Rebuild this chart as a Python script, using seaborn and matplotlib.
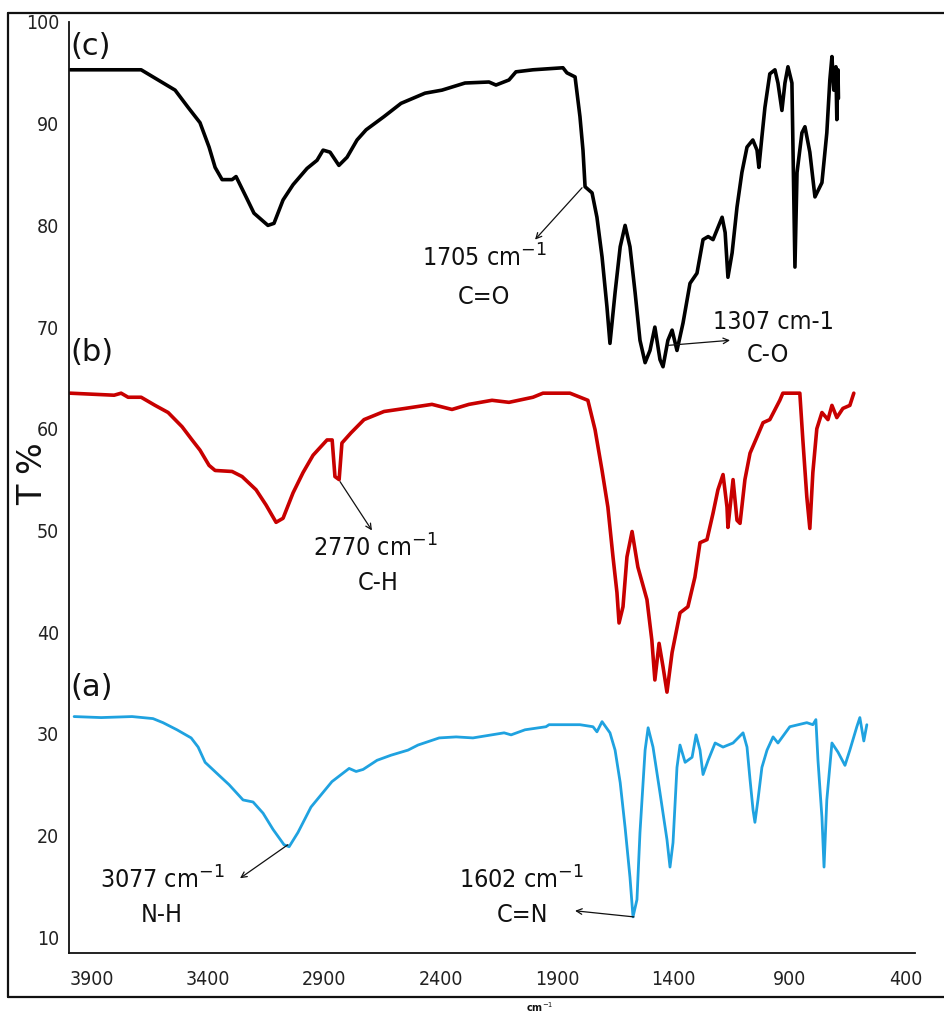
import numpy as np
import pandas as pd
import matplotlib
matplotlib.use("Agg")
import matplotlib.pyplot as plt
from matplotlib.lines import Line2D
import seaborn as sns

# ---------------- data (wavenumber cm-1, transmittance %) ----------------
wn_c = [3992, 3687, 3614, 3541, 3485, 3434, 3395, 3369, 3339, 3296, 3279, 3236, 3202, 3142, 3116,
        3077, 3034, 2974, 2931, 2905, 2875, 2837, 2802, 2759, 2720, 2643, 2570, 2467, 2394, 2295,
        2192, 2162, 2106, 2076, 2003, 1874, 1857, 1822, 1801, 1788, 1779, 1749, 1728, 1706, 1685,
        1672, 1650, 1628, 1607, 1586, 1564, 1543, 1521, 1500, 1479, 1457, 1444, 1423, 1405, 1384,
        1358, 1328, 1298, 1272, 1250, 1229, 1190, 1177, 1165, 1147, 1126, 1105, 1083, 1058, 1040,
        1032, 1019, 1006, 985, 963, 950, 933, 920, 907, 890, 886, 877, 868, 847, 834, 813, 791,
        761, 740, 727, 718, 710, 701, 697, 692, 690]
t_c = [95.3, 95.3, 94.3, 93.3, 91.6, 90.1, 87.7, 85.7, 84.5, 84.5, 84.8, 82.8, 81.2, 80.0, 80.2,
       82.5, 84.0, 85.6, 86.4, 87.4, 87.2, 85.9, 86.7, 88.4, 89.4, 90.7, 92.0, 93.0, 93.3, 94.0,
       94.1, 93.8, 94.3, 95.1, 95.3, 95.5, 95.0, 94.6, 90.7, 87.4, 83.8, 83.2, 80.8, 76.9, 72.0,
       68.4, 73.4, 77.9, 80.0, 77.9, 73.4, 68.7, 66.5, 67.7, 70.0, 66.8, 66.1, 68.7, 69.7, 67.7,
       70.4, 74.3, 75.3, 78.6, 78.9, 78.6, 80.8, 79.3, 74.9, 77.3, 81.8, 85.2, 87.7, 88.4, 87.4,
       85.7, 88.7, 91.6, 94.9, 95.3, 94.0, 91.3, 94.0, 95.6, 94.0, 88.4, 75.9, 85.2, 89.1, 89.7, 87.2, 82.8,
       84.2, 89.1, 94.3, 96.6, 93.3, 95.6, 90.4, 95.3, 92.5]

wn_b = [3992, 3803, 3773, 3743, 3687, 3627, 3571, 3511, 3468, 3434, 3395, 3369, 3296, 3253, 3193,
        3150, 3107, 3077, 3034, 2991, 2948, 2888, 2866, 2854, 2836, 2824, 2785, 2729, 2643, 2553,
        2437, 2351, 2278, 2179, 2106, 2003, 1960, 1844, 1767, 1736, 1706, 1681, 1659, 1642, 1633,
        1616, 1599, 1577, 1552, 1513, 1492, 1479, 1461, 1444, 1427, 1405, 1371, 1337, 1307, 1285,
        1255, 1229, 1208, 1186, 1169, 1165, 1143, 1126, 1113, 1092, 1070, 1040, 1014, 985, 942,
        929, 856, 843, 826, 813, 800, 783, 761, 735, 718, 697, 671, 641, 624]
t_b = [63.5, 63.3, 63.5, 63.1, 63.1, 62.3, 61.6, 60.2, 58.9, 57.9, 56.4, 55.9, 55.8, 55.3, 54.0,
       52.5, 50.8, 51.2, 53.7, 55.7, 57.4, 58.9, 58.9, 55.3, 55.0, 58.6, 59.6, 60.9, 61.7, 62.0,
       62.4, 61.9, 62.4, 62.8, 62.6, 63.1, 63.5, 63.5, 62.8, 59.9, 55.9, 52.3, 47.4, 43.9, 40.9,
       42.5, 47.4, 49.9, 46.4, 43.2, 39.2, 35.3, 38.9, 36.6, 34.1, 38.0, 41.9, 42.5, 45.4, 48.8,
       49.1, 51.7, 54.0, 55.5, 52.3, 50.3, 55.0, 51.0, 50.7, 55.0, 57.6, 59.2, 60.6, 60.9, 62.8,
       63.5, 63.5, 58.9, 53.3, 50.2, 55.7, 60.0, 61.6, 60.9, 62.3, 61.1, 62.0, 62.3, 63.5]

wn_a = [3975, 3859, 3726, 3636, 3593, 3533, 3472, 3442, 3412, 3356, 3309, 3249, 3206, 3163, 3120,
        3073, 3051, 3013, 2957, 2867, 2793, 2763, 2733, 2673, 2613, 2540, 2497, 2406, 2333, 2261,
        2127, 2097, 2037, 1947, 1934, 1801, 1745, 1728, 1706, 1672, 1650, 1628, 1607, 1586, 1573,
        1556, 1543, 1521, 1508, 1487, 1457, 1427, 1414, 1401, 1384, 1371, 1349, 1319, 1302, 1285,
        1272, 1250, 1220, 1186, 1143, 1100, 1083, 1070, 1057, 1049, 1036, 1019, 997, 971, 950,
        899, 826, 800, 787, 778, 761, 752, 740, 718, 692, 662, 641, 611, 598, 581, 568]
t_a = [31.7, 31.6, 31.7, 31.5, 31.1, 30.4, 29.6, 28.7, 27.2, 26.0, 25.0, 23.5, 23.3, 22.2, 20.6,
       19.1, 18.9, 20.3, 22.8, 25.3, 26.6, 26.3, 26.5, 27.4, 27.9, 28.4, 28.9, 29.6, 29.7, 29.6,
       30.1, 29.9, 30.4, 30.7, 30.9, 30.9, 30.7, 30.2, 31.2, 30.1, 28.4, 25.2, 20.8, 15.9, 12.0,
       13.7, 20.3, 28.4, 30.6, 28.7, 24.2, 19.6, 16.9, 19.3, 26.7, 28.9, 27.2, 27.7, 29.9, 28.4,
       26.0, 27.4, 29.1, 28.7, 29.1, 30.1, 28.7, 25.5, 22.5, 21.3, 23.5, 26.7, 28.4, 29.7, 29.1,
       30.7, 31.1, 30.9, 31.4, 27.4, 21.8, 16.9, 23.5, 29.1, 28.2, 26.9, 28.4, 30.7, 31.6, 29.3, 30.9]

x_ticks = [3900, 3400, 2900, 2400, 1900, 1400, 900, 400]
y_ticks = [10, 20, 30, 40, 50, 60, 70, 80, 90, 100]

# ---------------- figure ----------------
sns.set_theme(style="white")
plt.rcParams['font.family'] = ['DejaVu Sans']

W, H = 944, 1014
fig = plt.figure(figsize=(W / 100, H / 100), dpi=100)
ax = fig.add_axes([69 / W, 1 - 953 / H, (915 - 69) / W, (953 - 22) / H])

df_a = pd.DataFrame({"wn": wn_a, "T": t_a})
df_b = pd.DataFrame({"wn": wn_b, "T": t_b})
df_c = pd.DataFrame({"wn": wn_c, "T": t_c})

sns.lineplot(data=df_c, x="wn", y="T", ax=ax, color="#000000", lw=2.6, estimator=None, sort=False)
sns.lineplot(data=df_b, x="wn", y="T", ax=ax, color="#c80000", lw=2.6, estimator=None, sort=False)
sns.lineplot(data=df_a, x="wn", y="T", ax=ax, color="#1fa2e0", lw=2.0, estimator=None, sort=False)

ax.set_xlim(3997, 361)
ax.set_ylim(8.45, 100)
ax.set_xticks(x_ticks)
ax.set_yticks(y_ticks)
ax.set_xlabel("")
ax.set_ylabel("")
for s in ["top", "right"]:
    ax.spines[s].set_visible(False)
for s in ["left", "bottom"]:
    ax.spines[s].set_color("#111111")
    ax.spines[s].set_linewidth(1.3)
ax.tick_params(axis="both", length=0, colors="#222222")
ax.tick_params(axis="y", labelsize=14, pad=7)
ax.tick_params(axis="x", labelsize=14, pad=12)
for lab in ax.get_xticklabels() + ax.get_yticklabels():
    lab.set_fontstretch("condensed")

# panel labels
for lbl, yv in [("(c)", 97.6), ("(b)", 67.5), ("(a)", 34.6)]:
    ax.text(3992, yv, lbl, fontsize=22, color="#111111", ha="left", va="center", fontweight="medium")

# annotations
tk = dict(fontsize=18, color="#111111", ha="center", va="center", fontstretch="condensed")
arrow = dict(arrowstyle="->", color="#111111", lw=0.9, shrinkA=0, shrinkB=0, mutation_scale=10)

ax.annotate("", xy=(1994, 78.6), xytext=(1792, 83.7), arrowprops=arrow)
ax.text(2209, 76.8, "1705 cm$^{-1}$", **tk)
ax.text(2215, 73.0, "C=O", **tk)

ax.annotate("", xy=(1156, 68.7), xytext=(1423, 68.2), arrowprops=arrow)
ax.text(968, 70.5, "1307 cm-1", **tk)
ax.text(993, 67.3, "C-O", **tk)

ax.annotate("", xy=(2695, 50.0), xytext=(2832, 54.8), arrowprops=arrow)
ax.text(2682, 48.3, "2770 cm$^{-1}$", **tk)
ax.text(2669, 44.8, "C-H", **tk)

ax.annotate("", xy=(3262, 15.8), xytext=(3056, 19.1), arrowprops=arrow)
ax.text(3597, 15.6, "3077 cm$^{-1}$", **tk)
ax.text(3597, 12.2, "N-H", **tk)

ax.annotate("", xy=(1822, 12.6), xytext=(1569, 12.0), arrowprops=arrow)
ax.text(2050, 15.6, "1602 cm$^{-1}$", **tk)
ax.text(2050, 12.2, "C=N", **tk)

# y label and small x unit
fig.text(33 / W, 1 - 474 / H, "T %", rotation=90, fontsize=24, ha="center", va="center", color="#111111")
fig.text(540 / W, 1 - 1007 / H, "cm$^{-1}$", fontsize=7, ha="center", va="center",
         color="#111111", fontweight="bold")

# outer frame
for xs, ys in [([8 / W, 8 / W], [1 - 13 / H, 1 - 997 / H]),
               ([8 / W, 1.0], [1 - 13 / H, 1 - 13 / H]),
               ([8 / W, 1.0], [1 - 997 / H, 1 - 997 / H])]:
    fig.add_artist(Line2D(xs, ys, transform=fig.transFigure, color="#111111", lw=1.6))

fig.savefig("out.png", dpi=100)
